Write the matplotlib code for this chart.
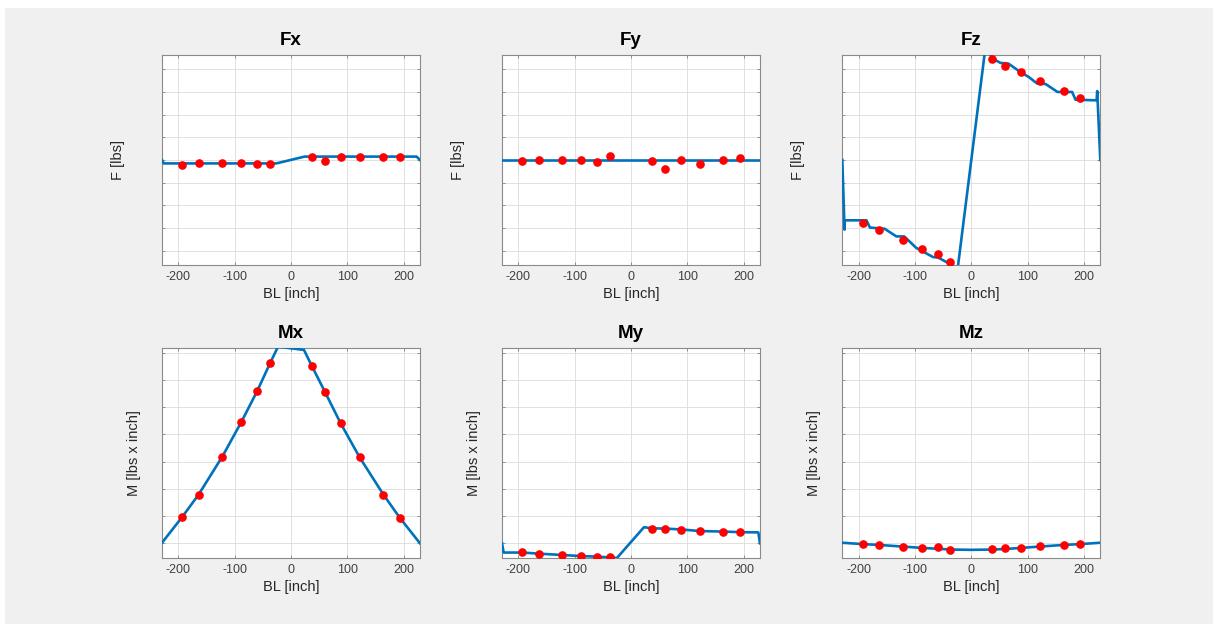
import matplotlib.pyplot as plt
import matplotlib.patches as patches

# BL stations of the measured points (same for all six plots)
bl_pts = [-193, -164, -122, -88, -60, -37, 37, 60, 88, 122, 164, 193]

# values in tick units (y tick labels are hidden in the original)
fx_pts = [-0.21, -0.12, -0.15, -0.15, -0.18, -0.18, 0.12, -0.03, 0.12, 0.12, 0.12, 0.12]
fy_pts = [-0.04, -0.01, 0.01, 0.01, -0.10, 0.16, -0.04, -0.40, 0.01, -0.16, 0.01, 0.07]
fz_pts = [-2.76, -3.07, -3.54, -3.91, -4.16, -4.50, 4.46, 4.13, 3.87, 3.47, 3.04, 2.74]
mx_pts = [0.97, 1.79, 3.18, 4.46, 5.59, 6.62, 6.51, 5.57, 4.41, 3.15, 1.79, 0.94]
my_pts = [-0.33, -0.39, -0.44, -0.47, -0.49, -0.52, 0.54, 0.53, 0.50, 0.44, 0.43, 0.40]
mz_pts = [-0.02, -0.07, -0.12, -0.17, -0.12, -0.26, -0.21, -0.17, -0.17, -0.10, -0.07, -0.04]

# load curves (breakpoints)
fx_line_x = [-229, -226, -26, 24, 223, 229]
fx_line_y = [0, -0.15, -0.15, 0.15, 0.15, 0]

fy_line_x = [-229, 229]
fy_line_y = [0, 0]

fz_line_x = [-229, -225, -225, -186, -180, -154, -133, -119, -98, -68, -59, -33, -24,
             24, 32, 43, 52, 66, 87, 102, 117, 132, 153, 179, 185, 222.5, 223.5, 229]
fz_line_y = [0, -3.07, -2.66, -2.66, -2.98, -3.03, -3.37, -3.37, -3.87, -4.28, -4.30, -4.65, -4.75,
             4.75, 4.70, 4.40, 4.28, 4.25, 3.88, 3.66, 3.37, 3.35, 3.00, 3.00, 2.66, 2.63, 3.04, 0]

mx_line_x = [-229, -193, -164, -122, -88, -60, -37, -23, 23, 37, 60, 88, 122, 164, 193, 229]
mx_line_y = [0.02, 0.97, 1.79, 3.18, 4.46, 5.59, 6.62, 7.22, 7.10, 6.51, 5.57, 4.41, 3.15, 1.79, 0.94, 0]

my_line_x = [-229, -226, -193, -164, -122, -88, -60, -37, -25, 23, 37, 60, 88, 122, 164, 193, 226, 229]
my_line_y = [0, -0.34, -0.34, -0.38, -0.43, -0.47, -0.49, -0.52, -0.54,
             0.59, 0.55, 0.54, 0.51, 0.45, 0.43, 0.41, 0.40, 0]

mz_line_x = [-229, -193, -164, -122, -88, -60, -37, 0, 37, 60, 88, 122, 164, 193, 229]
mz_line_y = [0.02, -0.03, -0.06, -0.12, -0.17, -0.20, -0.23, -0.24, -0.23, -0.21, -0.17, -0.12, -0.06, -0.03, 0.02]

titles = ['Fx', 'Fy', 'Fz', 'Mx', 'My', 'Mz']
lines = [(fx_line_x, fx_line_y), (fy_line_x, fy_line_y), (fz_line_x, fz_line_y),
         (mx_line_x, mx_line_y), (my_line_x, my_line_y), (mz_line_x, mz_line_y)]
points = [fx_pts, fy_pts, fz_pts, mx_pts, my_pts, mz_pts]

plt.rcParams['font.family'] = ['Liberation Sans', 'DejaVu Sans']
plt.rcParams['axes.unicode_minus'] = False  # matlab prints a plain hyphen

fig = plt.figure(figsize=(12.13, 6.24), dpi=100, facecolor='white')
# matlab-ish grey panel, leaves a thin white strip at top/left
fig.patches.append(patches.Rectangle((5 / 1213, 0), 1, 1 - 8 / 624, transform=fig.transFigure,
                                     facecolor='#f0f0f0', edgecolor='none', zorder=-10))

lefts = [162 / 1213, 502 / 1213, 842.3 / 1213]
bottoms = [1 - 265 / 624, 1 - 558 / 624]
w, h = 258 / 1213, 210 / 624

for i, name in enumerate(titles):
	row, col = divmod(i, 3)
	ax = fig.add_axes([lefts[col], bottoms[row], w, h])
	ax.set_facecolor('white')

	lx, ly = lines[i]
	ax.plot(lx, ly, color='#0072BD', linewidth=1.9, zorder=3)
	ax.plot(bl_pts, points[i], 'o', color='red', markersize=5.2, zorder=4)

	ax.set_xlim(-229, 229)
	ax.set_xticks([-200, -100, 0, 100, 200])
	if row == 0:
		ax.set_ylim(-4.63, 4.63)
		ax.set_yticks(range(-4, 5))
		ax.set_ylabel('F [lbs]', fontsize=10.5, color='#262626')
		ax.yaxis.set_label_coords(-0.143, 0.5)
	else:
		ax.set_ylim(-0.54, 7.17)
		ax.set_yticks(range(0, 8))
		ax.set_ylabel('M [lbs x inch]', fontsize=10.5, color='#262626')
		ax.yaxis.set_label_coords(-0.083, 0.5)
	ax.set_yticklabels([])

	ax.set_title(name, fontsize=13.5, fontweight='bold', pad=7)
	ax.set_xlabel('BL [inch]', fontsize=10.5, color='#262626', labelpad=3)

	ax.grid(True, color='#dcdcdc', linewidth=0.6)
	ax.set_axisbelow(True)
	ax.tick_params(direction='in', length=2.5, width=0.6, colors='#808080',
	               labelsize=9, labelcolor='#404040', top=True, right=True, pad=4)
	for s in ax.spines.values():
		s.set_color('#8a8a8a')
		s.set_linewidth(0.8)

fig.savefig('out.png', dpi=100, facecolor=fig.get_facecolor())
